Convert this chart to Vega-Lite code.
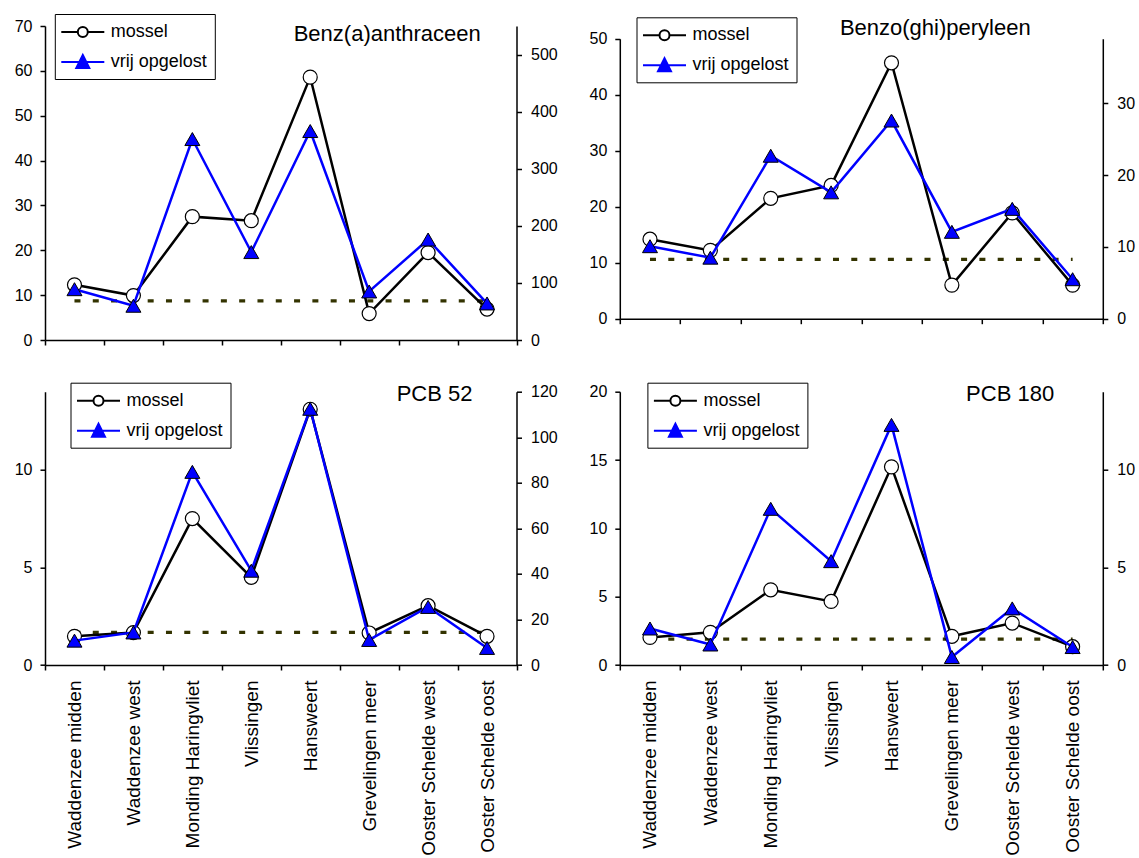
{
  "$schema": "https://vega.github.io/schema/vega-lite/v6.json",
  "background": "white",
  "padding": {"left": 14, "top": 13, "right": 5, "bottom": 0},
  "datasets": {
    "ba": [
      {"site": "Waddenzee midden", "mossel": 12.3, "vrij": 89, "norm": 8.7},
      {"site": "Waddenzee west", "mossel": 9.9, "vrij": 60, "norm": 8.7},
      {"site": "Monding Haringvliet", "mossel": 27.5, "vrij": 352, "norm": 8.7},
      {"site": "Vlissingen", "mossel": 26.6, "vrij": 154, "norm": 8.7},
      {"site": "Hansweert", "mossel": 58.6, "vrij": 366, "norm": 8.7},
      {"site": "Grevelingen meer", "mossel": 5.9, "vrij": 85, "norm": 8.7},
      {"site": "Ooster Schelde west", "mossel": 19.5, "vrij": 176, "norm": 8.7},
      {"site": "Ooster Schelde oost", "mossel": 6.9, "vrij": 64, "norm": 8.7}
    ],
    "bp": [
      {"site": "Waddenzee midden", "mossel": 14.2, "vrij": 10.1, "norm": 10.6},
      {"site": "Waddenzee west", "mossel": 12.2, "vrij": 8.5, "norm": 10.6},
      {"site": "Monding Haringvliet", "mossel": 21.5, "vrij": 22.7, "norm": 10.6},
      {"site": "Vlissingen", "mossel": 23.8, "vrij": 17.6, "norm": 10.6},
      {"site": "Hansweert", "mossel": 45.7, "vrij": 27.6, "norm": 10.6},
      {"site": "Grevelingen meer", "mossel": 6.0, "vrij": 12.1, "norm": 10.6},
      {"site": "Ooster Schelde west", "mossel": 18.9, "vrij": 15.3, "norm": 10.6},
      {"site": "Ooster Schelde oost", "mossel": 6.0, "vrij": 5.5, "norm": 10.6}
    ],
    "p52": [
      {"site": "Waddenzee midden", "mossel": 1.47, "vrij": 10.7, "norm": 1.67},
      {"site": "Waddenzee west", "mossel": 1.66, "vrij": 14.3, "norm": 1.67},
      {"site": "Monding Haringvliet", "mossel": 7.5, "vrij": 84.8, "norm": 1.67},
      {"site": "Vlissingen", "mossel": 4.49, "vrij": 41.4, "norm": 1.67},
      {"site": "Hansweert", "mossel": 13.1, "vrij": 112.5, "norm": 1.67},
      {"site": "Grevelingen meer", "mossel": 1.64, "vrij": 11, "norm": 1.67},
      {"site": "Ooster Schelde west", "mossel": 3.04, "vrij": 25.5, "norm": 1.67},
      {"site": "Ooster Schelde oost", "mossel": 1.47, "vrij": 7.5, "norm": 1.67}
    ],
    "p180": [
      {"site": "Waddenzee midden", "mossel": 2.02, "vrij": 1.87, "norm": 1.9},
      {"site": "Waddenzee west", "mossel": 2.39, "vrij": 1.05, "norm": 1.9},
      {"site": "Monding Haringvliet", "mossel": 5.5, "vrij": 8.0, "norm": 1.9},
      {"site": "Vlissingen", "mossel": 4.65, "vrij": 5.32, "norm": 1.9},
      {"site": "Hansweert", "mossel": 14.5, "vrij": 12.3, "norm": 1.9},
      {"site": "Grevelingen meer", "mossel": 2.1, "vrij": 0.41, "norm": 1.9},
      {"site": "Ooster Schelde west", "mossel": 3.07, "vrij": 2.9, "norm": 1.9},
      {"site": "Ooster Schelde oost", "mossel": 1.34, "vrij": 0.92, "norm": 1.9}
    ],
    "series": [{"series": "mossel"}, {"series": "vrij opgelost"}]
  },
  "config": {
    "font": "Liberation Sans",
    "view": {"stroke": null},
    "axis": {"domainColor": "black", "domainWidth": 1.5, "tickColor": "black", "tickWidth": 1.5, "tickSize": 5, "labelColor": "black", "labelFontSize": 16, "grid": false},
    "title": {"fontSize": 22, "fontWeight": "normal", "color": "black"},
    "legend": {"symbolOpacity": 1, "labelFontSize": 18, "labelColor": "black"}
  },
  "columns": 2,
  "align": "each",
  "bounds": "flush",
  "spacing": {"row": 51.7, "column": 102.8},
  "resolve": {"scale": {"x": "independent", "y": "independent", "fill": "independent", "stroke": "independent", "shape": "independent"}, "legend": {"fill": "independent", "stroke": "independent", "shape": "independent"}},
  "concat": [
    {
      "width": 471.5, "height": 314,
      "data": {"name": "ba"},
      "title": {"text": "Benz(a)anthraceen", "anchor": "middle", "frame": "group", "dx": 106.5, "offset": -49.6, "baseline": "alphabetic"},
      "layer": [
        {
          "encoding": {
            "x": {"field": "site", "type": "nominal", "sort": null, "scale": {"type": "band", "paddingInner": 0, "paddingOuter": 0, "domain": ["Waddenzee midden", "Waddenzee west", "Monding Haringvliet", "Vlissingen", "Hansweert", "Grevelingen meer", "Ooster Schelde west", "Ooster Schelde oost"]}, "axis": {"title": null, "labels": false, "tickBand": "extent"}},
            "y": {"field": "mossel", "type": "quantitative", "scale": {"domain": [0, 70], "nice": false}, "axis": {"title": null, "orient": "left", "values": [0, 10, 20, 30, 40, 50, 60, 70], "labelPadding": 8}}
          },
          "layer": [
            {"mark": {"type": "line", "color": "#333300", "strokeWidth": 3.3, "strokeDash": [6, 12.3]}, "encoding": {"y": {"field": "norm", "type": "quantitative", "scale": {"domain": [0, 70], "nice": false}, "axis": {"title": null, "orient": "left", "values": [0, 10, 20, 30, 40, 50, 60, 70], "labelPadding": 8}}}},
            {"mark": {"type": "line", "color": "black", "strokeWidth": 2.5}},
            {"mark": {"type": "point", "shape": "circle", "size": 196, "filled": true, "fill": "white", "stroke": "black", "strokeWidth": 1.2, "opacity": 1}}
          ]
        },
        {
          "encoding": {
            "x": {"field": "site", "type": "nominal", "sort": null, "scale": {"type": "band", "paddingInner": 0, "paddingOuter": 0, "domain": ["Waddenzee midden", "Waddenzee west", "Monding Haringvliet", "Vlissingen", "Hansweert", "Grevelingen meer", "Ooster Schelde west", "Ooster Schelde oost"]}, "axis": {"title": null, "labels": false, "tickBand": "extent"}},
            "y": {"field": "vrij", "type": "quantitative", "scale": {"domain": [0, 550], "nice": false}, "axis": {"title": null, "orient": "right", "values": [0, 100, 200, 300, 400, 500], "labelPadding": 9}}
          },
          "layer": [
            {"mark": {"type": "line", "color": "#0000ff", "strokeWidth": 2.5}},
            {"mark": {"type": "point", "shape": "triangle-up", "size": 225, "filled": true, "fill": "#0000ff", "stroke": "black", "strokeWidth": 1, "opacity": 1}}
          ]
        },
        {
          "data": {"name": "series"},
          "transform": [{"filter": "false"}],
          "mark": {"type": "point", "filled": true, "opacity": 1},
          "encoding": {
            "shape": {"field": "series", "type": "nominal", "scale": {"domain": ["mossel", "vrij opgelost"], "range": ["M-2.15,0H-0.5M0.5,0H2.15M0.5,0A0.5,0.5,0,1,1,-0.5,0A0.5,0.5,0,1,1,0.5,0Z", "M-2.15,0H2.15M0,-0.7L0.65,0.6L-0.65,0.6Z"]}, "legend": {"orient": "none", "legendX": 9.8, "legendY": -12, "title": null, "direction": "vertical", "strokeColor": "black", "fillColor": "white", "padding": 7, "symbolSize": 400, "symbolStrokeWidth": 2, "symbolOffset": 10, "labelOffset": 17, "rowPadding": 10}},
            "fill": {"field": "series", "type": "nominal", "scale": {"domain": ["mossel", "vrij opgelost"], "range": ["white", "#0000ff"]}, "legend": {"orient": "none", "legendX": 9.8, "legendY": -12, "title": null, "direction": "vertical", "strokeColor": "black", "fillColor": "white", "padding": 7, "symbolSize": 400, "symbolStrokeWidth": 2, "symbolOffset": 10, "labelOffset": 17, "rowPadding": 10}},
            "stroke": {"field": "series", "type": "nominal", "scale": {"domain": ["mossel", "vrij opgelost"], "range": ["black", "#0000ff"]}, "legend": {"orient": "none", "legendX": 9.8, "legendY": -12, "title": null, "direction": "vertical", "strokeColor": "black", "fillColor": "white", "padding": 7, "symbolSize": 400, "symbolStrokeWidth": 2, "symbolOffset": 10, "labelOffset": 17, "rowPadding": 10}}
          }
        }
      ],
      "resolve": {"scale": {"y": "independent"}}
    },
    {
      "width": 483, "height": 292.7,
      "data": {"name": "bp"},
      "title": {"text": "Benzo(ghi)peryleen", "anchor": "middle", "frame": "group", "dx": 74, "offset": -40, "baseline": "alphabetic"},
      "layer": [
        {
          "encoding": {
            "x": {"field": "site", "type": "nominal", "sort": null, "scale": {"type": "band", "paddingInner": 0, "paddingOuter": 0, "domain": ["Waddenzee midden", "Waddenzee west", "Monding Haringvliet", "Vlissingen", "Hansweert", "Grevelingen meer", "Ooster Schelde west", "Ooster Schelde oost"]}, "axis": {"title": null, "labels": false, "tickBand": "extent"}},
            "y": {"field": "mossel", "type": "quantitative", "scale": {"domain": [0, 50], "nice": false, "range": [292.7, 12.7]}, "axis": {"title": null, "orient": "left", "values": [0, 10, 20, 30, 40, 50], "labelPadding": 8}}
          },
          "layer": [
            {"mark": {"type": "line", "color": "#333300", "strokeWidth": 3.3, "strokeDash": [6, 12.3]}, "encoding": {"y": {"field": "norm", "type": "quantitative", "scale": {"domain": [0, 50], "nice": false, "range": [292.7, 12.7]}, "axis": {"title": null, "orient": "left", "values": [0, 10, 20, 30, 40, 50], "labelPadding": 8}}}},
            {"mark": {"type": "line", "color": "black", "strokeWidth": 2.5}},
            {"mark": {"type": "point", "shape": "circle", "size": 196, "filled": true, "fill": "white", "stroke": "black", "strokeWidth": 1.2, "opacity": 1}}
          ]
        },
        {
          "encoding": {
            "x": {"field": "site", "type": "nominal", "sort": null, "scale": {"type": "band", "paddingInner": 0, "paddingOuter": 0, "domain": ["Waddenzee midden", "Waddenzee west", "Monding Haringvliet", "Vlissingen", "Hansweert", "Grevelingen meer", "Ooster Schelde west", "Ooster Schelde oost"]}, "axis": {"title": null, "labels": false, "tickBand": "extent"}},
            "y": {"field": "vrij", "type": "quantitative", "scale": {"domain": [0, 39], "nice": false, "range": [292.7, 12.7]}, "axis": {"title": null, "orient": "right", "values": [0, 10, 20, 30], "labelPadding": 9}}
          },
          "layer": [
            {"mark": {"type": "line", "color": "#0000ff", "strokeWidth": 2.5}},
            {"mark": {"type": "point", "shape": "triangle-up", "size": 225, "filled": true, "fill": "#0000ff", "stroke": "black", "strokeWidth": 1, "opacity": 1}}
          ]
        },
        {
          "data": {"name": "series"},
          "transform": [{"filter": "false"}],
          "mark": {"type": "point", "filled": true, "opacity": 1},
          "encoding": {
            "shape": {"field": "series", "type": "nominal", "scale": {"domain": ["mossel", "vrij opgelost"], "range": ["M-2.15,0H-0.5M0.5,0H2.15M0.5,0A0.5,0.5,0,1,1,-0.5,0A0.5,0.5,0,1,1,0.5,0Z", "M-2.15,0H2.15M0,-0.7L0.65,0.6L-0.65,0.6Z"]}, "legend": {"orient": "none", "legendX": 16.7, "legendY": -8.7, "title": null, "direction": "vertical", "strokeColor": "black", "fillColor": "white", "padding": 7, "symbolSize": 400, "symbolStrokeWidth": 2, "symbolOffset": 10, "labelOffset": 17, "rowPadding": 10}},
            "fill": {"field": "series", "type": "nominal", "scale": {"domain": ["mossel", "vrij opgelost"], "range": ["white", "#0000ff"]}, "legend": {"orient": "none", "legendX": 16.7, "legendY": -8.7, "title": null, "direction": "vertical", "strokeColor": "black", "fillColor": "white", "padding": 7, "symbolSize": 400, "symbolStrokeWidth": 2, "symbolOffset": 10, "labelOffset": 17, "rowPadding": 10}},
            "stroke": {"field": "series", "type": "nominal", "scale": {"domain": ["mossel", "vrij opgelost"], "range": ["black", "#0000ff"]}, "legend": {"orient": "none", "legendX": 16.7, "legendY": -8.7, "title": null, "direction": "vertical", "strokeColor": "black", "fillColor": "white", "padding": 7, "symbolSize": 400, "symbolStrokeWidth": 2, "symbolOffset": 10, "labelOffset": 17, "rowPadding": 10}}
          }
        }
      ],
      "resolve": {"scale": {"y": "independent"}}
    },
    {
      "width": 471.5, "height": 273.3,
      "data": {"name": "p52"},
      "title": {"text": "PCB 52", "anchor": "middle", "frame": "group", "dx": 153.8, "offset": -41, "baseline": "alphabetic"},
      "layer": [
        {
          "encoding": {
            "x": {"field": "site", "type": "nominal", "sort": null, "scale": {"type": "band", "paddingInner": 0, "paddingOuter": 0, "domain": ["Waddenzee midden", "Waddenzee west", "Monding Haringvliet", "Vlissingen", "Hansweert", "Grevelingen meer", "Ooster Schelde west", "Ooster Schelde oost"]}, "axis": {"title": null, "labelAngle": 270, "labelAlign": "right", "labelBaseline": "middle", "labelFontSize": 19, "labelPadding": 10, "labelLimit": 400, "tickBand": "extent"}},
            "y": {"field": "mossel", "type": "quantitative", "scale": {"domain": [0, 14], "nice": false}, "axis": {"title": null, "orient": "left", "values": [0, 5, 10], "labelPadding": 8}}
          },
          "layer": [
            {"mark": {"type": "line", "color": "#333300", "strokeWidth": 3.3, "strokeDash": [6, 12.3]}, "encoding": {"y": {"field": "norm", "type": "quantitative", "scale": {"domain": [0, 14], "nice": false}, "axis": {"title": null, "orient": "left", "values": [0, 5, 10], "labelPadding": 8}}}},
            {"mark": {"type": "line", "color": "black", "strokeWidth": 2.5}},
            {"mark": {"type": "point", "shape": "circle", "size": 196, "filled": true, "fill": "white", "stroke": "black", "strokeWidth": 1.2, "opacity": 1}}
          ]
        },
        {
          "encoding": {
            "x": {"field": "site", "type": "nominal", "sort": null, "scale": {"type": "band", "paddingInner": 0, "paddingOuter": 0, "domain": ["Waddenzee midden", "Waddenzee west", "Monding Haringvliet", "Vlissingen", "Hansweert", "Grevelingen meer", "Ooster Schelde west", "Ooster Schelde oost"]}, "axis": {"title": null, "labelAngle": 270, "labelAlign": "right", "labelBaseline": "middle", "labelFontSize": 19, "labelPadding": 10, "labelLimit": 400, "tickBand": "extent"}},
            "y": {"field": "vrij", "type": "quantitative", "scale": {"domain": [0, 120], "nice": false}, "axis": {"title": null, "orient": "right", "values": [0, 20, 40, 60, 80, 100, 120], "labelPadding": 9}}
          },
          "layer": [
            {"mark": {"type": "line", "color": "#0000ff", "strokeWidth": 2.5}},
            {"mark": {"type": "point", "shape": "triangle-up", "size": 225, "filled": true, "fill": "#0000ff", "stroke": "black", "strokeWidth": 1, "opacity": 1}}
          ]
        },
        {
          "data": {"name": "series"},
          "transform": [{"filter": "false"}],
          "mark": {"type": "point", "filled": true, "opacity": 1},
          "encoding": {
            "shape": {"field": "series", "type": "nominal", "scale": {"domain": ["mossel", "vrij opgelost"], "range": ["M-2.15,0H-0.5M0.5,0H2.15M0.5,0A0.5,0.5,0,1,1,-0.5,0A0.5,0.5,0,1,1,0.5,0Z", "M-2.15,0H2.15M0,-0.7L0.65,0.6L-0.65,0.6Z"]}, "legend": {"orient": "none", "legendX": 25.5, "legendY": -9, "title": null, "direction": "vertical", "strokeColor": "black", "fillColor": "white", "padding": 7, "symbolSize": 400, "symbolStrokeWidth": 2, "symbolOffset": 10, "labelOffset": 17, "rowPadding": 10}},
            "fill": {"field": "series", "type": "nominal", "scale": {"domain": ["mossel", "vrij opgelost"], "range": ["white", "#0000ff"]}, "legend": {"orient": "none", "legendX": 25.5, "legendY": -9, "title": null, "direction": "vertical", "strokeColor": "black", "fillColor": "white", "padding": 7, "symbolSize": 400, "symbolStrokeWidth": 2, "symbolOffset": 10, "labelOffset": 17, "rowPadding": 10}},
            "stroke": {"field": "series", "type": "nominal", "scale": {"domain": ["mossel", "vrij opgelost"], "range": ["black", "#0000ff"]}, "legend": {"orient": "none", "legendX": 25.5, "legendY": -9, "title": null, "direction": "vertical", "strokeColor": "black", "fillColor": "white", "padding": 7, "symbolSize": 400, "symbolStrokeWidth": 2, "symbolOffset": 10, "labelOffset": 17, "rowPadding": 10}}
          }
        }
      ],
      "resolve": {"scale": {"y": "independent"}}
    },
    {
      "width": 483, "height": 273.3,
      "data": {"name": "p180"},
      "title": {"text": "PCB 180", "anchor": "middle", "frame": "group", "dx": 148.8, "offset": -41, "baseline": "alphabetic"},
      "layer": [
        {
          "encoding": {
            "x": {"field": "site", "type": "nominal", "sort": null, "scale": {"type": "band", "paddingInner": 0, "paddingOuter": 0, "domain": ["Waddenzee midden", "Waddenzee west", "Monding Haringvliet", "Vlissingen", "Hansweert", "Grevelingen meer", "Ooster Schelde west", "Ooster Schelde oost"]}, "axis": {"title": null, "labelAngle": 270, "labelAlign": "right", "labelBaseline": "middle", "labelFontSize": 19, "labelPadding": 10, "labelLimit": 400, "tickBand": "extent"}},
            "y": {"field": "mossel", "type": "quantitative", "scale": {"domain": [0, 20], "nice": false}, "axis": {"title": null, "orient": "left", "values": [0, 5, 10, 15, 20], "labelPadding": 8}}
          },
          "layer": [
            {"mark": {"type": "line", "color": "#333300", "strokeWidth": 3.3, "strokeDash": [6, 12.3]}, "encoding": {"y": {"field": "norm", "type": "quantitative", "scale": {"domain": [0, 20], "nice": false}, "axis": {"title": null, "orient": "left", "values": [0, 5, 10, 15, 20], "labelPadding": 8}}}},
            {"mark": {"type": "line", "color": "black", "strokeWidth": 2.5}},
            {"mark": {"type": "point", "shape": "circle", "size": 196, "filled": true, "fill": "white", "stroke": "black", "strokeWidth": 1.2, "opacity": 1}}
          ]
        },
        {
          "encoding": {
            "x": {"field": "site", "type": "nominal", "sort": null, "scale": {"type": "band", "paddingInner": 0, "paddingOuter": 0, "domain": ["Waddenzee midden", "Waddenzee west", "Monding Haringvliet", "Vlissingen", "Hansweert", "Grevelingen meer", "Ooster Schelde west", "Ooster Schelde oost"]}, "axis": {"title": null, "labelAngle": 270, "labelAlign": "right", "labelBaseline": "middle", "labelFontSize": 19, "labelPadding": 10, "labelLimit": 400, "tickBand": "extent"}},
            "y": {"field": "vrij", "type": "quantitative", "scale": {"domain": [0, 14], "nice": false}, "axis": {"title": null, "orient": "right", "values": [0, 5, 10], "labelPadding": 9}}
          },
          "layer": [
            {"mark": {"type": "line", "color": "#0000ff", "strokeWidth": 2.5}},
            {"mark": {"type": "point", "shape": "triangle-up", "size": 225, "filled": true, "fill": "#0000ff", "stroke": "black", "strokeWidth": 1, "opacity": 1}}
          ]
        },
        {
          "data": {"name": "series"},
          "transform": [{"filter": "false"}],
          "mark": {"type": "point", "filled": true, "opacity": 1},
          "encoding": {
            "shape": {"field": "series", "type": "nominal", "scale": {"domain": ["mossel", "vrij opgelost"], "range": ["M-2.15,0H-0.5M0.5,0H2.15M0.5,0A0.5,0.5,0,1,1,-0.5,0A0.5,0.5,0,1,1,0.5,0Z", "M-2.15,0H2.15M0,-0.7L0.65,0.6L-0.65,0.6Z"]}, "legend": {"orient": "none", "legendX": 27.6, "legendY": -9, "title": null, "direction": "vertical", "strokeColor": "black", "fillColor": "white", "padding": 7, "symbolSize": 400, "symbolStrokeWidth": 2, "symbolOffset": 10, "labelOffset": 17, "rowPadding": 10}},
            "fill": {"field": "series", "type": "nominal", "scale": {"domain": ["mossel", "vrij opgelost"], "range": ["white", "#0000ff"]}, "legend": {"orient": "none", "legendX": 27.6, "legendY": -9, "title": null, "direction": "vertical", "strokeColor": "black", "fillColor": "white", "padding": 7, "symbolSize": 400, "symbolStrokeWidth": 2, "symbolOffset": 10, "labelOffset": 17, "rowPadding": 10}},
            "stroke": {"field": "series", "type": "nominal", "scale": {"domain": ["mossel", "vrij opgelost"], "range": ["black", "#0000ff"]}, "legend": {"orient": "none", "legendX": 27.6, "legendY": -9, "title": null, "direction": "vertical", "strokeColor": "black", "fillColor": "white", "padding": 7, "symbolSize": 400, "symbolStrokeWidth": 2, "symbolOffset": 10, "labelOffset": 17, "rowPadding": 10}}
          }
        }
      ],
      "resolve": {"scale": {"y": "independent"}}
    }
  ]
}
